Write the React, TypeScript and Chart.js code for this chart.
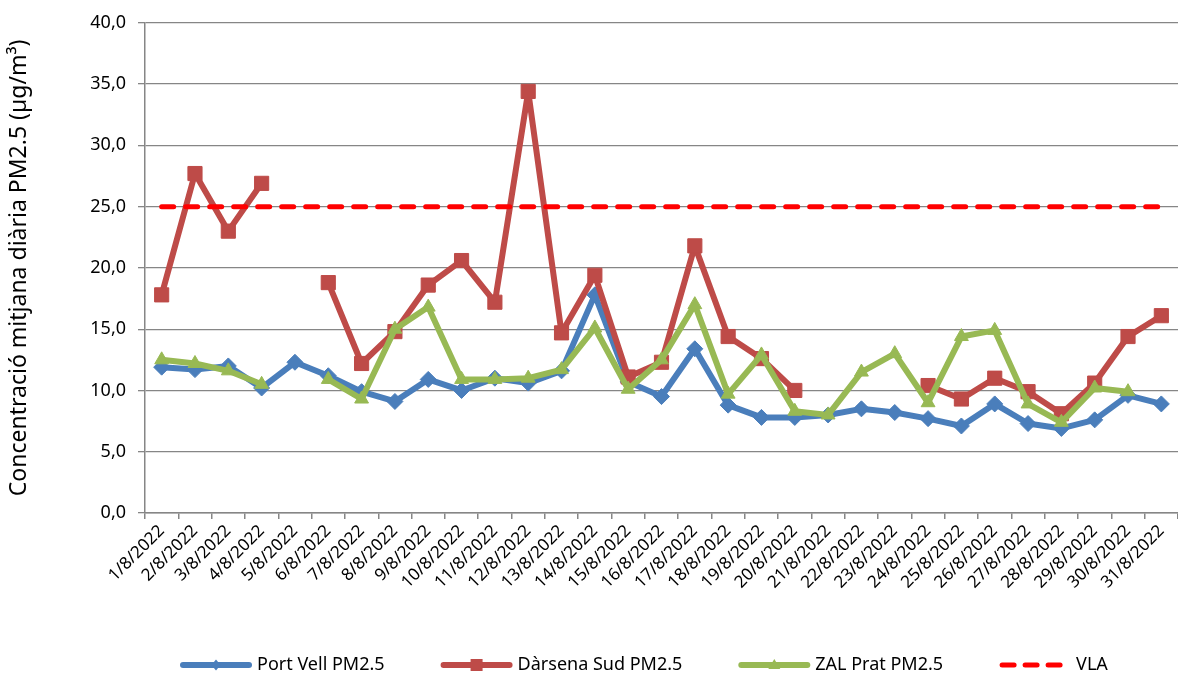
import React, { useEffect, useRef } from "react";
import { Chart, registerables } from "chart.js";

Chart.register(...registerables);

const FONT = '"Noto Sans", sans-serif';

const categories = [
  "1/8/2022", "2/8/2022", "3/8/2022", "4/8/2022", "5/8/2022", "6/8/2022", "7/8/2022", "8/8/2022",
  "9/8/2022", "10/8/2022", "11/8/2022", "12/8/2022", "13/8/2022", "14/8/2022", "15/8/2022", "16/8/2022",
  "17/8/2022", "18/8/2022", "19/8/2022", "20/8/2022", "21/8/2022", "22/8/2022", "23/8/2022", "24/8/2022",
  "25/8/2022", "26/8/2022", "27/8/2022", "28/8/2022", "29/8/2022", "30/8/2022", "31/8/2022",
];

const portVell = [
  11.9, 11.7, 12.0, 10.2, 12.3, 11.2, 9.9, 9.1, 10.9, 10.0, 11.0, 10.6, 11.6, 17.8, 10.7, 9.5,
  13.4, 8.8, 7.8, 7.8, 8.0, 8.5, 8.2, 7.7, 7.1, 8.9, 7.3, 6.9, 7.6, 9.6, 8.9,
];

const darsenaSud = [
  17.8, 27.7, 23.0, 26.9, null, 18.8, 12.2, 14.8, 18.6, 20.6, 17.2, 34.4, 14.7, 19.4, 11.1, 12.3,
  21.8, 14.4, 12.6, 10.0, null, null, null, 10.4, 9.3, 11.0, 9.9, 8.1, 10.6, 14.4, 16.1,
];

const zalPrat = [
  12.5, 12.2, 11.6, 10.5, null, 10.9, 9.3, 15.0, 16.8, 10.9, 10.9, 11.0, 11.7, 15.1, 10.1, 12.5,
  17.0, 9.7, 12.9, 8.3, 8.0, 11.5, 13.0, 9.0, 14.4, 14.9, 8.9, 7.4, 10.2, 9.9, null,
];

const vla = [
  25, 25, 25, 25, 25, 25, 25, 25, 25, 25, 25, 25, 25, 25, 25, 25,
  25, 25, 25, 25, 25, 25, 25, 25, 25, 25, 25, 25, 25, 25, 25,
];

const seriesLabels = ["Port Vell PM2.5", "Dàrsena Sud PM2.5", "ZAL Prat PM2.5", "VLA"];
const yTitle = "Concentració mitjana diària PM2.5 (µg/m³)";

const BLUE = "#4A7EBB";
const RED = "#BE4B48";
const GREEN = "#98B954";
const VLA_RED = "#FF0000";

function drawMarker(ctx: CanvasRenderingContext2D, style: string, x: number, y: number, color: string) {
  ctx.save();
  ctx.fillStyle = color;
  ctx.beginPath();
  if (style === "rectRot") {
    ctx.moveTo(x, y - 5.5);
    ctx.lineTo(x + 4.5, y);
    ctx.lineTo(x, y + 5.5);
    ctx.lineTo(x - 4.5, y);
  } else if (style === "rect") {
    ctx.rect(x - 6, y - 6, 12, 12);
  } else if (style === "triangle") {
    ctx.moveTo(x, y - 6);
    ctx.lineTo(x + 6, y + 4);
    ctx.lineTo(x - 6, y + 4);
  }
  ctx.closePath();
  ctx.fill();
  ctx.restore();
}

const customLegend = {
  id: "customLegend",
  afterDraw(chart: any) {
    const ctx: CanvasRenderingContext2D = chart.ctx;
    ctx.save();
    ctx.font = `18px ${FONT}`;
    ctx.textBaseline = "middle";
    ctx.textAlign = "left";
    const lineLen = 72;
    const textGap = 5;
    const itemGap = 56;
    const y = 665;
    let x = 180;
    chart.data.datasets.forEach((ds: any) => {
      ctx.save();
      ctx.strokeStyle = ds.borderColor;
      ctx.lineCap = "round";
      if (ds.borderDash && ds.borderDash.length) {
        ctx.lineWidth = 5;
        ctx.setLineDash([12, 11]);
        ctx.beginPath();
        ctx.moveTo(x + 3, y);
        ctx.lineTo(x + lineLen - 5, y);
        ctx.stroke();
      } else {
        ctx.lineWidth = 6;
        ctx.beginPath();
        ctx.moveTo(x + 3, y);
        ctx.lineTo(x + lineLen - 3, y);
        ctx.stroke();
        drawMarker(ctx, ds.pointStyle, x + lineLen / 2, y, ds.borderColor);
      }
      ctx.restore();
      ctx.fillStyle = "#000";
      const tx = x + lineLen + textGap;
      ctx.fillText(ds.label, tx, y);
      x = tx + ctx.measureText(ds.label).width + itemGap;
    });
    ctx.restore();
  },
};

export default function App() {
  const ref = useRef<HTMLCanvasElement>(null);

  useEffect(() => {
    document.body.style.margin = "0";
    const canvas = ref.current;
    if (!canvas) return;
    const chart = new Chart(canvas, {
      type: "line",
      data: {
        labels: categories,
        datasets: [
          {
            label: seriesLabels[0],
            data: portVell,
            borderColor: BLUE,
            backgroundColor: BLUE,
            borderWidth: 6,
            pointStyle: "rectRot",
            pointRadius: 8,
            pointBorderWidth: 1,
            pointBorderColor: BLUE,
            pointBackgroundColor: BLUE,
            borderJoinStyle: "round",
            borderCapStyle: "round",
            spanGaps: false,
            order: 3,
          },
          {
            label: seriesLabels[1],
            data: darsenaSud,
            borderColor: RED,
            backgroundColor: RED,
            borderWidth: 6,
            pointStyle: "rect",
            pointRadius: 10,
            pointBorderWidth: 1,
            pointBorderColor: RED,
            pointBackgroundColor: RED,
            borderJoinStyle: "round",
            borderCapStyle: "round",
            spanGaps: false,
            order: 2,
          },
          {
            label: seriesLabels[2],
            data: zalPrat,
            borderColor: GREEN,
            backgroundColor: GREEN,
            borderWidth: 6,
            pointStyle: "triangle",
            pointRadius: 8,
            pointBorderWidth: 1,
            pointBorderColor: GREEN,
            pointBackgroundColor: GREEN,
            borderJoinStyle: "round",
            borderCapStyle: "round",
            spanGaps: false,
            order: 1,
          },
          {
            label: seriesLabels[3],
            data: vla,
            borderColor: VLA_RED,
            backgroundColor: VLA_RED,
            borderWidth: 5,
            borderDash: [12, 12],
            borderCapStyle: "round",
            pointRadius: 0,
            order: 0,
          },
        ],
      },
      options: {
        animation: false,
        responsive: false,
        maintainAspectRatio: false,
        layout: { autoPadding: false, padding: { top: 20, left: 0, right: 0, bottom: 0 } },
        plugins: {
          legend: { display: false },
          tooltip: { enabled: false },
        },
        scales: {
          x: {
            offset: true,
            grid: {
              display: true,
              drawOnChartArea: false,
              drawTicks: true,
              tickLength: 6,
              color: "#868686",
              offset: true,
              lineWidth: 1.5,
            },
            border: { display: true, color: "#868686", width: 1.5 },
            ticks: {
              autoSkip: false,
              maxRotation: 45,
              minRotation: 45,
              color: "#000",
              padding: 2,
              font: { family: FONT, size: 17 },
            },
            afterFit: (s: any) => {
              s.height = 167;
              s.paddingRight = 0;
            },
          },
          y: {
            min: 0,
            max: 40,
            ticks: {
              stepSize: 5,
              color: "#000",
              padding: 12,
              font: { family: FONT, size: 18 },
              callback: (v: any) => Number(v).toFixed(1).replace(".", ","),
            },
            grid: { color: "#868686", tickLength: 7, lineWidth: 1.3 },
            border: { display: true, color: "#868686", width: 1.5 },
            title: {
              display: true,
              text: yTitle,
              color: "#000",
              font: { family: FONT, size: 23 },
              padding: { top: 6, bottom: 0 },
            },
            afterFit: (s: any) => {
              s.width = 145;
            },
          },
        },
      },
      plugins: [customLegend],
    });
    return () => chart.destroy();
  }, []);

  return <canvas ref={ref} width={1178} height={680} style={{ display: "block" }} />;
}
